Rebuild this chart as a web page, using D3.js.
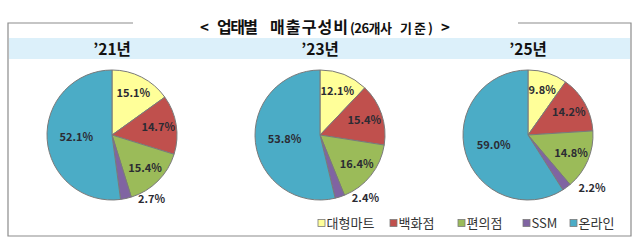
<!DOCTYPE html>
<html>
<head>
<meta charset="utf-8">
<script src="https://cdn.jsdelivr.net/npm/d3@7"></script>
<style>
  body { margin: 0; background: #fff; }
  svg { display: block; font-family: "Noto Sans CJK KR", "Noto Sans", sans-serif; }
</style>
</head>
<body>
<div id="graph"></div>
<script>
// chart data
var years = ["\u201921년", "\u201923년", "\u201925년"];
var categories = ["대형마트", "백화점", "편의점", "SSM", "온라인"];
var share21 = [15.1, 14.7, 15.4, 2.7, 52.1];
var share23 = [12.1, 15.4, 16.4, 2.4, 53.8];
var share25 = [9.8, 14.2, 14.8, 2.2, 59.0];
var colors = ["#ffff99", "#c0504d", "#9bbb59", "#8064a2", "#4bacc6"];

var width = 640;
var height = 245;

var svg = d3.select('#graph')
    .append('svg')
    .attr('width', width)
    .attr('height', height);

// frame with a gap for the title
var frameL = 8, frameR = 631, frameT = 23, frameB = 236;
svg.append('path')
    .attr('fill', 'none')
    .attr('stroke', '#8c8c8c')
    .attr('stroke-width', 1.2)
    .attr('d', 'M133,' + frameT + 'H' + frameL + 'V' + frameB + 'H' + frameR + 'V' + frameT + 'H518');

// title, word by word so the wide gaps survive
var titleParts = [
    { t: '<', x: 200, s: 15, w: 0 },
    { t: '업태별', x: 217, s: 16, w: 41 },
    { t: '매출구성비', x: 270, s: 16, w: 78 },
    { t: '(26개사', x: 350, s: 13, w: 42 },
    { t: '기준)', x: 400, s: 13, w: 33 },
    { t: '>', x: 441, s: 15, w: 0 }
];
var titleText = svg.append('g')
    .selectAll('text')
    .data(titleParts)
    .enter()
    .append('text')
    .attr('x', function(d) { return d.x; })
    .attr('y', 33)
    .attr('font-size', function(d) { return d.s; })
    .attr('font-weight', 'bold')
    .attr('fill', '#111')
    .text(function(d) { return d.t; });
titleText.filter(function(d) { return d.w > 0; })
    .attr('textLength', function(d) { return d.w; })
    .attr('lengthAdjust', 'spacing');

// light blue band with years
svg.append('rect')
    .attr('x', frameL + 1)
    .attr('y', 38)
    .attr('width', frameR - frameL - 2)
    .attr('height', 21)
    .attr('fill', '#dcf0fa');

var centers = d3.scalePoint()
    .domain(years)
    .range([112, 528]);

svg.append('g')
    .selectAll('text')
    .data(years)
    .enter()
    .append('text')
    .attr('x', function(d) { return centers(d); })
    .attr('y', 54.5)
    .attr('text-anchor', 'middle')
    .attr('font-size', 15.5)
    .attr('font-weight', 'bold')
    .attr('fill', '#111')
    .text(function(d) { return d; });

// pies
var radius = 65;
var pie = d3.pie().sort(null).value(function(d) { return d; });
var arc = d3.arc().innerRadius(0).outerRadius(radius);
var allShares = [share21, share23, share25];

allShares.forEach(function(shares, i) {
    var g = svg.append('g')
        .attr('transform', 'translate(' + centers(years[i]) + ',135)');
    var arcs = pie(shares);

    g.selectAll('path')
        .data(arcs)
        .enter()
        .append('path')
        .attr('d', arc)
        .attr('fill', function(d, j) { return colors[j]; })
        .attr('stroke', '#7a7a7a')
        .attr('stroke-width', 1);

    g.selectAll('text')
        .data(arcs)
        .enter()
        .append('text')
        .attr('font-size', 11)
        .attr('font-weight', 'bold')
        .attr('fill', '#2b2b33')
        .attr('text-anchor', function(d) { return d.data < 5 ? 'start' : 'middle'; })
        .attr('dy', '0.35em')
        .attr('transform', function(d) {
            var a = (d.startAngle + d.endAngle) / 2;
            if (d.data < 5) {
                // small slice: label outside, to the right of the rim
                return 'translate(' + (Math.sin(a) * radius + 12) + ',' + (-Math.cos(a) * radius + 1) + ')';
            }
            var r = d.data > 40 ? radius * 0.55 : radius * 0.72;
            return 'translate(' + (Math.sin(a) * r) + ',' + (-Math.cos(a) * r) + ')';
        })
        .text(function(d) { return d.data.toFixed(1) + '%'; });
});

// legend
var legendX = d3.scaleOrdinal()
    .domain(categories)
    .range([318, 390, 458, 523, 570]);

var legend = svg.append('g')
    .selectAll('g')
    .data(categories)
    .enter()
    .append('g')
    .attr('transform', function(d) { return 'translate(' + legendX(d) + ',223)'; });

legend.append('rect')
    .attr('x', 0)
    .attr('y', -3.5)
    .attr('width', 7)
    .attr('height', 7)
    .attr('fill', function(d, i) { return colors[i]; })
    .attr('stroke', '#7a7a7a')
    .attr('stroke-width', 0.8);

legend.append('text')
    .attr('x', 8.5)
    .attr('dy', '0.35em')
    .attr('font-size', 13)
    .attr('fill', '#333')
    .text(function(d) { return d; });
</script>
</body>
</html>
